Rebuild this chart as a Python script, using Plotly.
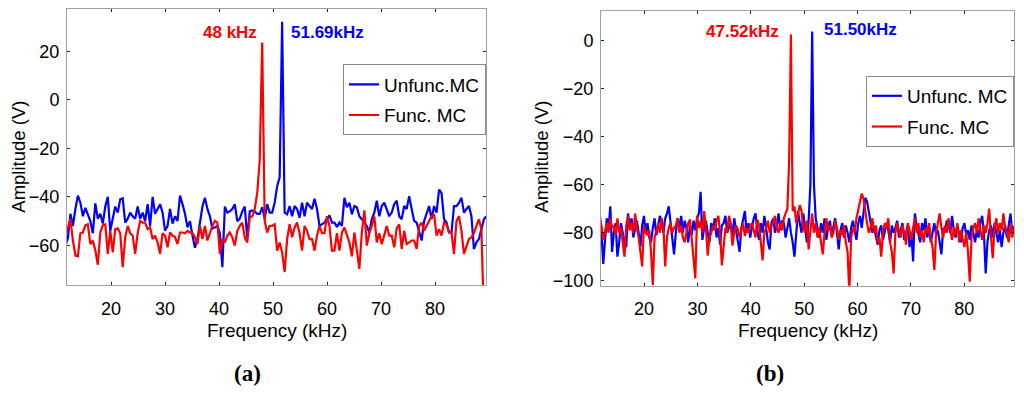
import plotly.graph_objects as go

# ---------------- data ----------------
# panel (a): uniform frequency bins (kHz)
freq_a_start = 11.56
freq_a_step = 0.46125
unfunc_a = [
    -60, -57, -47, -52, -45, -39.5, -42.4, -48, -44.5, -47,
    -50, -55, -42.7, -49, -47, -51, -44, -40, -54, -49,
    -44, -46.5, -41, -40.6, -50.6, -49, -46.5, -48, -49, -44,
    -49, -46.5, -50, -43, -52, -40, -47, -45, -43, -46.5,
    -54, -52, -45, -51, -48, -50, -39.5, -43, -47, -52.6,
    -50, -56, -61, -57.5, -50, -44, -40.4, -45, -48, -53,
    -52.6, -52, -55, -69, -44, -46.5, -46, -45, -43, -50,
    -49, -46, -44, -57, -46, -45.6, -46, -47, -47, -44.3,
    -49, -43, -46.5, -46.5, -42.4, -35.6, -32, 32.2, -46.5, -47.2,
    -43.8, -48, -43.8, -45, -48.6, -42.4, -48, -42.4, -43.8, -45,
    -40.8, -45, -52, -51.3, -50.6, -49, -47.6, -50.6, -50.6, -52.4,
    -50.6, -52, -40.4, -44.3, -42.4, -47.2, -43.8, -44.3, -48, -49.2,
    -50.6, -52, -54.7, -49.2, -46.5, -41.6, -48, -43.8, -42.4, -45,
    -48, -46.5, -43, -41.6, -48, -49.2, -43.8, -45, -39.7, -45,
    -49.9, -50.6, -54.7, -58, -50, -46.5, -43.8, -49.2, -43.8, -46.5,
    -37, -38.4, -49.2, -50.6, -54.7, -54.7, -43.8, -43.8, -42.4, -40.4,
    -46.5, -45, -43.8, -48, -61.5, -58.8, -57.4, -53.3, -49.2, -48,
]
func_a = [
    -56, -52, -49.2, -58, -64.2, -64.5, -55, -54.7, -51.7, -51.3,
    -59.5, -58, -62, -68, -54.7, -51.7, -51.3, -63.5, -54, -62.9,
    -53.3, -53, -55, -69, -56.7, -52, -55, -56, -63.5, -55,
    -49.9, -50.6, -50.6, -53.3, -52.6, -57.4, -56, -58.8, -63.5, -55,
    -56, -60.8, -54.7, -56, -56.5, -59.5, -54.7, -54.7, -55, -54,
    -54.7, -55, -56.7, -59.5, -52, -57.4, -52, -58, -54.7, -52,
    -49.9, -50.6, -63.5, -57.4, -58.8, -56, -54.7, -56.7, -60.1, -54,
    -52, -50.6, -56.7, -58.8, -48.6, -48, -45, -38.4, -25, 23.6,
    -50, -54.7, -52, -52, -51.3, -62.2, -58.8, -62.9, -71, -57.4,
    -51.3, -56.7, -52.6, -50.6, -55, -62.2, -52, -54, -57.4, -57.4,
    -62.2, -56, -52, -55, -55, -48, -52, -62.2, -62.2, -55,
    -62.2, -54.7, -52.6, -56, -58.8, -64.5, -54.7, -62, -69.7, -54.7,
    -45.6, -60.1, -55, -52, -48, -58.8, -55, -59.5, -56, -52,
    -56, -56, -60.8, -53, -51.3, -61.5, -54, -59.5, -58.8, -58,
    -58, -61.5, -52, -50.6, -54, -52, -50, -48, -47.2, -56,
    -53.3, -56, -50.6, -51.3, -54.7, -54.7, -63.5, -50, -48, -54,
    -63.5, -60.1, -57.4, -56.7, -55, -52, -49.2, -53.3, -90, -90,
]

# panel (b)
freq_b_start = 11.696
freq_b_step = 0.3317
unfunc_b = [
    -72, -80, -93, -85, -74, -78, -69, -88, -80, -76,
    -90, -84, -76, -80, -84, -86, -72, -78, -74, -82,
    -79, -75, -80, -86, -77, -73, -80, -76, -82, -84,
    -78, -74, -81, -77, -73, -76, -80, -74, -72, -69,
    -76, -82, -89, -80, -74, -78, -73, -80, -75, -78,
    -84, -77, -81, -75, -79, -74, -72, -63, -83, -78,
    -75, -80, -84, -76, -79, -74, -82, -78, -85, -77,
    -76, -73, -80, -78, -76, -81, -74, -79, -84, -88,
    -78, -75, -71, -80, -76, -82, -77, -74, -72, -79,
    -83, -76, -80, -73, -78, -84, -87, -76, -74, -80,
    -77, -72, -79, -75, -76, -82, -78, -74, -80, -84,
    -90, -78, -71, -76, -80, -72, -78, -84, -75, -60,
    3.8, -60, -74, -78, -82, -76, -80, -74, -83, -78,
    -75, -81, -77, -74, -80, -87, -79, -76, -82, -77,
    -80, -84, -78, -75, -79, -83, -76, -73, -78, -71,
    -65.5, -67, -72, -76, -80, -78, -82, -85, -79, -77,
    -83, -80, -76, -79, -84, -77, -80, -78, -75, -82,
    -79, -76, -83, -80, -77, -86, -80, -92, -72, -77,
    -80, -84, -76, -79, -74, -82, -78, -84, -80, -76,
    -81, -79, -84, -89, -78, -80, -75, -77, -80, -73,
    -79, -82, -77, -80, -84, -78, -76, -81, -79, -83,
    -77, -80, -84, -79, -82, -76, -73, -80, -97, -84,
    -79, -77, -82, -76, -80, -84, -79, -86, -80, -77,
    -82, -76, -72, -80, -78, -76,
]
func_b = [
    -74, -77, -83, -79, -76, -80, -74, -78, -77, -81,
    -74, -80, -78, -84, -90, -77, -73, -79, -76, -80,
    -72, -78, -82, -88, -94, -77, -80, -81, -79, -88,
    -101.8, -82, -79, -76.6, -80, -74, -78, -94, -82, -78,
    -76, -80, -78, -77, -74, -80, -77, -82, -84, -79,
    -76, -74.5, -82, -90, -99, -73, -78, -75, -80, -71,
    -78, -89.5, -82, -80, -77, -79, -75, -73, -80, -93.6,
    -84, -78, -80, -73, -76, -85.4, -80, -77, -78.6, -82,
    -79, -76, -81.4, -78, -80, -77, -76, -79, -82, -74.5,
    -77, -84, -91.5, -80, -78, -75, -80, -77, -76, -73,
    -78, -80, -76, -79, -74, -72, -70, -50, 2.5, -71,
    -69, -76, -72, -68.5, -71, -78, -80, -75, -87, -79,
    -72, -80, -76, -82, -78, -84, -89, -80, -74, -79,
    -77, -82, -80, -75, -78, -83, -79, -81, -77, -84,
    -88, -105, -82, -78, -80, -74, -71, -68, -63.7, -66,
    -72, -76, -80, -78, -74, -80, -77, -84, -82, -90,
    -80, -76, -78, -74, -84, -88, -97, -80, -76, -79,
    -82, -77, -80, -85, -76, -79, -83, -78, -74, -80,
    -76, -82, -79, -84, -78, -80, -76, -82, -86, -95.5,
    -80, -76, -72, -78, -82, -77, -80, -74, -79, -83,
    -78, -81, -76, -84, -79, -82, -86, -80, -88, -100.4,
    -82, -78, -76, -80, -74, -79, -83, -77, -80, -76,
    -70, -82, -90.6, -78, -74, -80, -76, -79, -72, -78,
    -80, -84, -76, -82, -78, -80,
]

x_ticks = [20, 30, 40, 50, 60, 70, 80]
y_ticks_a = [-60, -40, -20, 0, 20]
y_ticks_b = [-100, -80, -60, -40, -20, 0]
series_names_a = ["Unfunc.MC", "Func. MC"]
series_names_b = ["Unfunc. MC", "Func. MC"]
peak_labels_a = ["48 kHz", "51.69kHz"]
peak_labels_b = ["47.52kHz", "51.50kHz"]

freq_a = [freq_a_start + freq_a_step * i for i in range(len(unfunc_a))]
freq_b = [freq_b_start + freq_b_step * i for i in range(len(unfunc_b))]

BLUE = "#0000ff"
RED = "#ff0000"
FONT = "Liberation Sans, Arial, sans-serif"
SERIF = "Liberation Serif, Times New Roman, serif"
# page body has an 8px margin, so the figure is drawn at (8, 8)
OFF = 8
W, H = 1024 - OFF, 397 - OFF

def px(x):
    return (x - OFF) / W

def py(y):
    return 1 - (y - OFF) / H

fig = go.Figure()
fig.add_trace(go.Scatter(x=freq_a, y=unfunc_a, mode="lines", name=series_names_a[0],
                         line=dict(color=BLUE, width=2.2), xaxis="x", yaxis="y",
                         legend="legend", legendgroup="a1"))
fig.add_trace(go.Scatter(x=freq_a, y=func_a, mode="lines", name=series_names_a[1],
                         line=dict(color=RED, width=2.2), xaxis="x", yaxis="y",
                         legend="legend", legendgroup="a2"))
fig.add_trace(go.Scatter(x=freq_b, y=unfunc_b, mode="lines", name=series_names_b[0],
                         line=dict(color=BLUE, width=2.2), xaxis="x2", yaxis="y2",
                         legend="legend2", legendgroup="b1"))
fig.add_trace(go.Scatter(x=freq_b, y=func_b, mode="lines", name=series_names_b[1],
                         line=dict(color=RED, width=2.2), xaxis="x2", yaxis="y2",
                         legend="legend2", legendgroup="b2"))

axis_common = dict(showgrid=False, zeroline=False, showline=True, linecolor="#a0a0a0",
                   linewidth=1, mirror="ticks", ticks="inside", ticklen=3,
                   tickcolor="#222", tickwidth=1,
                   tickfont=dict(family=FONT, size=18, color="#000"))

legend_common = dict(xanchor="right", yanchor="top", bgcolor="white",
                     bordercolor="#888", borderwidth=1,
                     font=dict(family=FONT, size=19, color="#000"), tracegroupgap=3)

fig.update_layout(
    width=W, height=H, margin=dict(l=0, r=0, t=0, b=0),
    paper_bgcolor="white", plot_bgcolor="white",
    xaxis=dict(domain=[px(67), px(486)], range=[11.85, 89.44], tickvals=x_ticks,
               anchor="y", ticklabelstandoff=7, **axis_common),
    yaxis=dict(domain=[py(288.7), py(8)], range=[-76.5, 37.46], tickvals=y_ticks_a,
               anchor="x", ticklabelstandoff=3, **axis_common),
    xaxis2=dict(domain=[px(601), px(1014)], range=[11.94, 89.31], tickvals=x_ticks,
                anchor="y2", ticklabelstandoff=7, **axis_common),
    yaxis2=dict(domain=[py(289), py(10)], range=[-102.05, 12.3], tickvals=y_ticks_b,
                anchor="x2", ticklabelstandoff=3, **axis_common),
    legend=dict(x=px(486), y=py(64.3), **legend_common),
    legend2=dict(x=px(1014), y=py(76), **legend_common),
    showlegend=True,
)

ann = []
def text(x, y, s, size=19, color="#000", family=FONT, angle=0):
    ann.append(dict(x=px(x), y=py(y), xref="paper", yref="paper", text=s,
                    showarrow=False, textangle=angle, xanchor="center", yanchor="middle",
                    font=dict(family=family, size=size, color=color)))

text(19, 158, "Amplitude (V)", size=18.5, angle=-90)
text(542, 158, "Amplitude (V)", size=18.5, angle=-90)
text(277, 335, "Frequency (kHz)")
text(808, 335, "Frequency (kHz)")
text(247, 378, "<b>(a)</b>", size=23, family=SERIF)
text(770, 378, "<b>(b)</b>", size=23, family=SERIF)
text(230, 31.5, "<b>" + peak_labels_a[0] + "</b>", size=17, color=RED)
text(327.5, 31.5, "<b>" + peak_labels_a[1] + "</b>", size=17, color=BLUE)
text(742.5, 31, "<b>" + peak_labels_b[0] + "</b>", size=17, color=RED)
text(860.5, 28.5, "<b>" + peak_labels_b[1] + "</b>", size=17, color=BLUE)
fig.update_layout(annotations=ann)

fig.write_html("out.html")
